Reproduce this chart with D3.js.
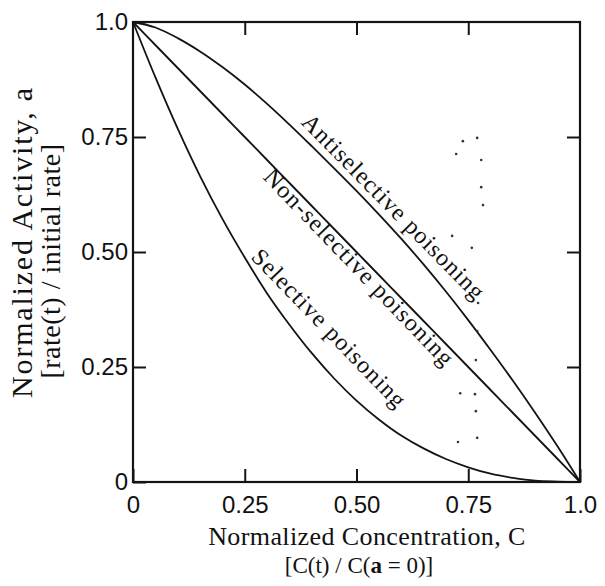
<!DOCTYPE html>
<html>
<head>
<meta charset="utf-8">
<script src="https://cdn.jsdelivr.net/npm/d3@7"></script>
<style>
  body { margin: 0; background: #fff; }
  svg { display: block; font-family: 'Liberation Serif', 'Times New Roman', serif; }
  .curve { fill: none; stroke: #141414; stroke-width: 1.8; }
  .frame { fill: none; stroke: #141414; stroke-width: 2.2; }
  .tick line { stroke: #141414; stroke-width: 2; }
  .tick text { font-size: 24px; fill: #111; }
  .curve-label { font-size: 24px; fill: #111; }
  .title { fill: #111; }
</style>
</head>
<body>
<svg id="chart" width="605" height="586"></svg>
<script>
// values
const conc = [0, 0.05, 0.1, 0.15, 0.2, 0.25, 0.3, 0.35, 0.4, 0.45, 0.5, 0.55, 0.6, 0.65, 0.7, 0.75, 0.8, 0.85, 0.9, 0.95, 1];
const antiselective = [1, 0.988, 0.965, 0.936, 0.902, 0.864, 0.822, 0.777, 0.73, 0.682, 0.633, 0.582, 0.529, 0.473, 0.414, 0.352, 0.287, 0.22, 0.15, 0.077, 0];
const nonselective = [1, 0.95, 0.9, 0.85, 0.8, 0.75, 0.7, 0.65, 0.6, 0.55, 0.5, 0.45, 0.4, 0.35, 0.3, 0.25, 0.2, 0.15, 0.1, 0.05, 0];
const selective = [1, 0.88, 0.768, 0.665, 0.572, 0.488, 0.41, 0.342, 0.28, 0.225, 0.177, 0.136, 0.101, 0.073, 0.05, 0.032, 0.018, 0.009, 0.003, 0.001, 0];

const xTicks = [0, 0.25, 0.5, 0.75, 1];
const xTickLabels = ['0', '0.25', '0.50', '0.75', '1.0'];
const yTicks = [0, 0.25, 0.5, 0.75, 1];
const yTickLabels = ['0', '0.25', '0.50', '0.75', '1.0'];

// scanner specks near C = 0.75
const speckC = [0.738, 0.770, 0.723, 0.779, 0.779, 0.783, 0.714, 0.758, 0.772, 0.770, 0.767, 0.732, 0.765, 0.767, 0.727, 0.770];
const speckA = [0.741, 0.748, 0.713, 0.700, 0.641, 0.602, 0.535, 0.509, 0.389, 0.328, 0.265, 0.193, 0.191, 0.154, 0.087, 0.096];

const labelText = ['Antiselective poisoning', 'Non-selective poisoning', 'Selective poisoning'];
const labelC = [0.374, 0.289, 0.262];
const labelA = [0.780, 0.661, 0.487];

const svg = d3.select('#chart');
const margin = { top: 22, right: 25, bottom: 104, left: 133 };
const width = 605;
const height = 586;

const x = d3.scaleLinear().domain([0, 1]).range([margin.left, width - margin.right]);
const y = d3.scaleLinear().domain([0, 1]).range([height - margin.bottom, margin.top]);

const tickLen = 13;

// labelled axes, ticks point inward
svg.append('g')
  .attr('transform', `translate(0, ${y(0)})`)
  .call(d3.axisBottom(x).tickValues(xTicks).tickSize(-tickLen).tickPadding(14)
    .tickFormat((d, i) => xTickLabels[i]))
  .call((g) => g.select('.domain').remove());

svg.append('g')
  .attr('transform', `translate(${x(0)}, 0)`)
  .call(d3.axisLeft(y).tickValues(yTicks).tickSize(-tickLen).tickPadding(5)
    .tickFormat((d, i) => yTickLabels[i]))
  .call((g) => g.select('.domain').remove());

// mirrored tick-only axes
svg.append('g')
  .attr('transform', `translate(0, ${y(1)})`)
  .call(d3.axisTop(x).tickValues(xTicks.slice(1, -1)).tickSize(-tickLen).tickFormat(''))
  .call((g) => g.select('.domain').remove());

svg.append('g')
  .attr('transform', `translate(${x(1)}, 0)`)
  .call(d3.axisRight(y).tickValues(yTicks.slice(1, -1)).tickSize(-tickLen).tickFormat(''))
  .call((g) => g.select('.domain').remove());

svg.selectAll('.tick text').attr('fill', '#111');

svg.append('rect')
  .attr('class', 'frame')
  .attr('x', x(0))
  .attr('y', y(1))
  .attr('width', x(1) - x(0))
  .attr('height', y(0) - y(1));

const line = d3.line()
  .curve(d3.curveCatmullRom.alpha(0.5))
  .x((d) => x(d[0]))
  .y((d) => y(d[1]));

[antiselective, nonselective, selective].forEach((series) => {
  svg.append('path')
    .datum(conc.map((c, i) => [c, series[i]]))
    .attr('class', 'curve')
    .attr('d', line);
});

svg.selectAll('.speck')
  .data(speckC)
  .enter()
  .append('circle')
  .attr('class', 'speck')
  .attr('r', 1.3)
  .attr('fill', '#333')
  .attr('cx', (d) => x(d))
  .attr('cy', (d, i) => y(speckA[i]));

const angles = [45.5, 46.2, 46];
const spacing = [1, 1.3, 1.2];
svg.selectAll('.curve-label')
  .data(labelText)
  .enter()
  .append('text')
  .attr('class', 'curve-label')
  .attr('transform', (d, i) => `translate(${x(labelC[i])}, ${y(labelA[i])}) rotate(${angles[i]})`)
  .style('letter-spacing', (d, i) => spacing[i] + 'px')
  .text((d) => d);

// axis titles
svg.append('text')
  .attr('class', 'title')
  .attr('text-anchor', 'middle')
  .attr('transform', 'translate(32, 242) rotate(-90)')
  .style('font-size', '30px')
  .style('letter-spacing', '1.8px')
  .text('Normalized Activity, a');

svg.append('text')
  .attr('class', 'title')
  .attr('text-anchor', 'middle')
  .attr('transform', 'translate(60, 261) rotate(-90)')
  .style('font-size', '28px')
  .style('letter-spacing', '0.5px')
  .text('[rate(t) / initial rate]');

svg.append('text')
  .attr('class', 'title')
  .attr('text-anchor', 'middle')
  .attr('x', 367)
  .attr('y', 545)
  .style('font-size', '26px')
  .style('letter-spacing', '0.4px')
  .text('Normalized Concentration, C');

const sub = svg.append('text')
  .attr('class', 'title')
  .attr('text-anchor', 'middle')
  .attr('x', 359)
  .attr('y', 573)
  .style('font-size', '23px');
sub.append('tspan').text('[C(t) / C(');
sub.append('tspan').attr('font-weight', 'bold').text('a');
sub.append('tspan').text(' = 0)]');
</script>
</body>
</html>
